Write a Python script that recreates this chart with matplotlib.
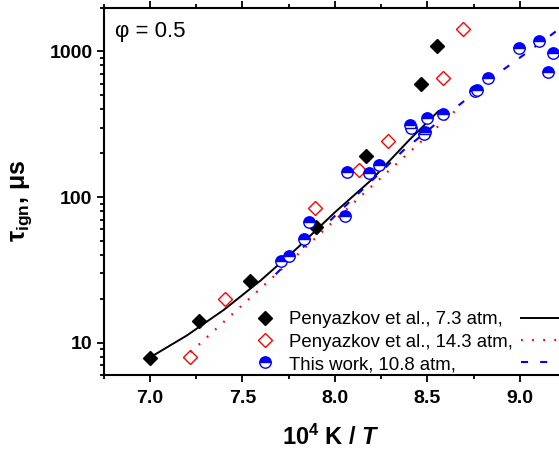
import numpy as np
import matplotlib
matplotlib.use("Agg")
import matplotlib.pyplot as plt
from matplotlib.ticker import LogLocator, NullFormatter, FixedLocator, MultipleLocator

plt.rcParams['font.family'] = ['Liberation Sans', 'DejaVu Sans']
plt.rcParams['mathtext.fontset'] = 'custom'
plt.rcParams['mathtext.rm'] = 'Liberation Sans'
plt.rcParams['mathtext.bf'] = 'Liberation Sans:bold'
plt.rcParams['mathtext.it'] = 'Liberation Sans:italic:bold'

# ---- data ----
# Penyazkov et al., 7.3 atm (symbols)
pen73_x = [7.00, 7.265, 7.544, 7.90, 8.168, 8.465, 8.554]
pen73_y = [7.9, 14.0, 26.4, 62.5, 192, 600, 1080]
# Penyazkov et al., 14.3 atm (symbols)
pen143_x = [7.216, 7.405, 7.892, 8.13, 8.288, 8.586, 8.69]
pen143_y = [7.96, 19.9, 84.4, 153, 243, 656, 1432]
# This work, 10.8 atm (symbols)
tw_x = [7.708, 7.751, 7.832, 7.861, 8.057, 8.065, 8.184, 8.238, 8.405, 8.411,
        8.497, 8.486, 8.483, 8.585, 8.757, 8.768, 8.827, 8.995, 9.103, 9.178, 9.151]
tw_y = [36.3, 39.3, 51.2, 67.3, 74.6, 147.5, 147, 166, 313, 297,
        348, 279, 270, 372, 531, 545, 659, 1060, 1185, 980, 725]

# model curves
l73_x = [7.0, 7.2, 7.4, 7.6, 7.8, 8.0, 8.2, 8.4, 8.56]
l73_y = [7.9, 11.2, 16.8, 26.8, 45.0, 78.5, 132, 245, 389]
l143_x = [7.22, 7.7, 8.2, 8.68]
l143_y = [8.6, 30.9, 119, 422]
ltw_x = [7.68, 8.0, 8.37, 8.66, 8.9, 9.15, 9.25]
ltw_y = [29.5, 74.1, 209, 417, 733, 1245, 1549]

labels = ['Penyazkov et al., 7.3 atm,', 'Penyazkov et al., 14.3 atm,', 'This work, 10.8 atm,']
xtick_vals = [7.0, 7.5, 8.0, 8.5, 9.0]
ytick_vals = [10, 100, 1000]

W, H = 559, 454
fig = plt.figure(figsize=(W / 100, H / 100), dpi=100)
left = 103.5 / W
bottom = (H - 375) / H
top = (H - 7.5) / H
ax_w_px = 612.5 - 103.5
ax_h_px = 375 - 7.5
ax = fig.add_axes([left, bottom, ax_w_px / W, top - bottom])

blue = '#0000ff'
red = '#ff0000'

h_l73, = ax.plot(l73_x, l73_y, color='black', lw=1.4, zorder=3)
h_l143, = ax.plot(l143_x, l143_y, color=red, lw=1.6, linestyle=(0, (0.8, 4.2)), zorder=3)
h_ltw, = ax.plot(ltw_x, ltw_y, color=blue, lw=1.5, linestyle=(0, (3.4, 5.8)), zorder=3)

h_p73, = ax.plot(pen73_x, pen73_y, linestyle='none', marker='D', ms=7.6, color='black',
                 markeredgecolor='black', zorder=4)
h_p143, = ax.plot(pen143_x, pen143_y, linestyle='none', marker='D', ms=7.2,
                  markerfacecolor='none', markeredgecolor=red, markeredgewidth=1.0, zorder=4)
h_tw, = ax.plot(tw_x, tw_y, linestyle='none', marker='o', ms=8.2, fillstyle='top',
                markerfacecolor=blue, markerfacecoloralt='white', markeredgecolor=blue,
                markeredgewidth=1.0, zorder=4)

ax.set_yscale('log')
ax.set_xlim(6.75, 9.5)
ax.set_ylim(6, 2000)

ax.xaxis.set_major_locator(FixedLocator(xtick_vals))
ax.xaxis.set_minor_locator(MultipleLocator(0.25))
ax.set_xticklabels([f'{v:.1f}' for v in xtick_vals])
ax.yaxis.set_major_locator(FixedLocator(ytick_vals))
ax.yaxis.set_minor_locator(LogLocator(base=10, subs=np.arange(2, 10)))
ax.yaxis.set_minor_formatter(NullFormatter())
ax.set_yticklabels([str(v) for v in ytick_vals])

for s in ax.spines.values():
    s.set_linewidth(1.5)
ax.spines['right'].set_visible(False)

ax.tick_params(axis='both', which='both', direction='out', width=1.3)
ax.tick_params(axis='x', which='major', length=5, top=True, labelsize=14, pad=6)
ax.tick_params(axis='x', which='minor', length=3, top=True)
ax.tick_params(axis='y', which='major', length=5, labelsize=14, pad=3)
ax.tick_params(axis='y', which='minor', length=3)
for lab in ax.get_xticklabels() + ax.get_yticklabels():
    lab.set_fontweight('bold')

ax.set_xlabel(r'$\mathbf{10^4}$ K / $T$', fontsize=17, fontweight='bold')
ax.xaxis.set_label_coords((331 - 103.5) / ax_w_px, -(425 - 375) / ax_h_px)
ax.set_ylabel(r'$\mathbf{τ_{ign}}$, $\mathbf{μs}$', fontsize=18, fontweight='bold')
ax.yaxis.set_label_coords(-(103.5 - 34) / ax_w_px, (375 - 201) / ax_h_px)

ax.text(115, H - 32, 'φ = 0.5', transform=None, fontsize=16, va='center', ha='left')

leg = fig.legend([h_p73, h_p143, h_tw, h_l73, h_l143, h_ltw],
                 labels + ['', '', ''], ncol=2, frameon=False,
                 loc='lower left', bbox_to_anchor=(245 / W, (H - 373) / H),
                 fontsize=13.4, handlelength=2.15, handletextpad=0.21,
                 columnspacing=0.43, labelspacing=0.29, borderpad=0, borderaxespad=0)

fig.savefig('out.png', dpi=100)
